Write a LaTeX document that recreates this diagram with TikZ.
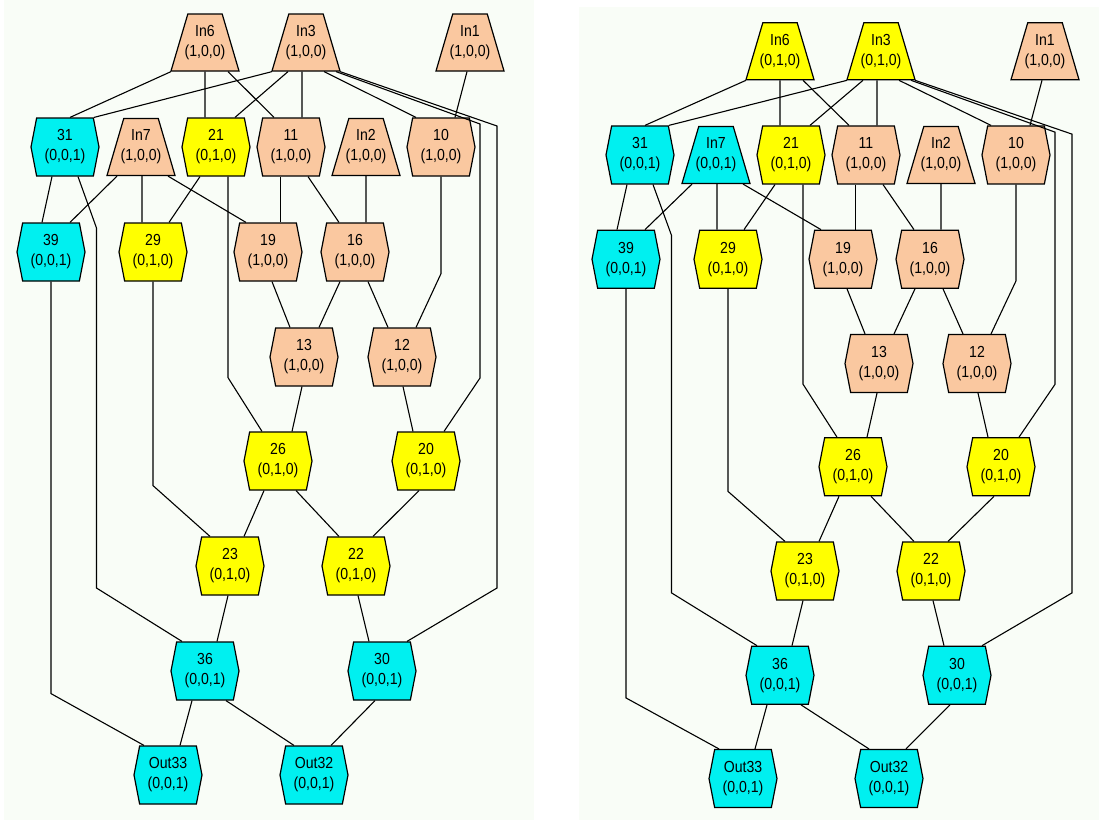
\documentclass[tikz,border=0pt]{standalone}
\usepackage{fontspec}
\setmainfont{Liberation Sans}[FakeStretch=0.88]
\usetikzlibrary{shapes.geometric,shapes.symbols}
\definecolor{peach}{RGB}{250,200,160}
\definecolor{lemon}{RGB}{255,255,0}
\definecolor{aqua}{RGB}{0,240,240}
\definecolor{paper}{RGB}{249,253,247}

\tikzset{
  gate/.style={signal, signal to=west and east, signal pointer angle=158, draw, line width=1.2pt,
    minimum width=68pt, minimum height=58pt, inner sep=0pt, align=center,
    font=\fontsize{16}{20}\selectfont},
  port/.style={trapezium, trapezium angle=64, trapezium stretches body, draw, line width=1.2pt,
    minimum width=68pt, minimum height=57pt, inner xsep=-4pt, inner ysep=0pt, align=center,
    font=\fontsize{16}{20}\selectfont},
  wire/.style={line width=1.1pt}
}

% one copy of the circuit: #1 fill of In6/In3, #2 their label, #3 fill of In7, #4 its label
\newcommand{\circuit}[4]{
  \node[port, fill=#1] (in6) at (205,42.5) {In6\\#2};
  \node[port, fill=#1] (in3) at (306,42.5) {In3\\#2};
  \node[port, fill=peach] (in1) at (470,42.5) {In1\\(1,0,0)};
  \node[gate, fill=aqua] (n31) at (65,147) {31\\(0,0,1)};
  \node[port, fill=#3] (in7) at (141,147) {In7\\#4};
  \node[gate, fill=lemon] (n21) at (216,147) {21\\(0,1,0)};
  \node[gate, fill=peach] (n11) at (291,147) {11\\(1,0,0)};
  \node[port, fill=peach] (in2) at (366,147) {In2\\(1,0,0)};
  \node[gate, fill=peach] (n10) at (441,147) {10\\(1,0,0)};
  \node[gate, fill=aqua] (n39) at (51,252) {39\\(0,0,1)};
  \node[gate, fill=lemon] (n29) at (153,252) {29\\(0,1,0)};
  \node[gate, fill=peach] (n19) at (268,252) {19\\(1,0,0)};
  \node[gate, fill=peach] (n16) at (355,252) {16\\(1,0,0)};
  \node[gate, fill=peach] (n13) at (304,357) {13\\(1,0,0)};
  \node[gate, fill=peach] (n12) at (402,357) {12\\(1,0,0)};
  \node[gate, fill=lemon] (n26) at (278,461) {26\\(0,1,0)};
  \node[gate, fill=lemon] (n20) at (426,461) {20\\(0,1,0)};
  \node[gate, fill=lemon] (n23) at (230,566) {23\\(0,1,0)};
  \node[gate, fill=lemon] (n22) at (356,566) {22\\(0,1,0)};
  \node[gate, fill=aqua] (n36) at (205,671) {36\\(0,0,1)};
  \node[gate, fill=aqua] (n30) at (382,671) {30\\(0,0,1)};
  \node[gate, fill=aqua] (out33) at (168,775) {Out33\\(0,0,1)};
  \node[gate, fill=aqua] (out32) at (314,775) {Out32\\(0,0,1)};

  \foreach \a/\p/\b/\q in {in6/-34/n31/5, in3/-34/n31/29, in6/0/n21/-11, in6/23/n11/-17,
      in3/-18/n21/19, in3/-4/n11/11, in3/18/n10/-25, in1/-3/n10/14, n31/-13/n39/-9,
      in7/-24/n39/19, in7/1/n29/-11, in7/27/n19/-22, n21/-16/n29/16, n11/-10.5/n19/12.5,
      n11/17/n16/-16, in2/0/n16/11, n19/4/n13/-14, n16/-15/n13/15, n16/13/n12/-14,
      n13/-2/n26/14, n12/1/n20/-13, n26/-14/n23/14, n26/18/n22/-17, n20/-7/n22/17,
      n23/-2/n36/12, n22/2/n30/-13, n36/-13/out33/12, n36/21/out32/-20, n30/-7/out32/17}
    \draw[wire] ([xshift=\p pt]\a.south) -- ([xshift=\q pt]\b.north);

  % long edges with bends
  \draw[wire] ([xshift=30pt]in3.south) -- (480,124) -- (480,378) -- ([xshift=18pt]n20.north);
  \draw[wire] ([xshift=34pt]in3.south) -- (497,126) -- (497,588) -- ([xshift=25pt]n30.north);
  \draw[wire] ([xshift=13pt]n31.south) -- (96.5,228) -- (96.5,588) -- ([xshift=-23pt]n36.north);
  \draw[wire] ([xshift=12pt]n21.south) -- ++(0,201) -- ([xshift=-16pt]n26.north);
  \draw[wire] (n10.south) -- ++(0,97) -- ([xshift=14pt]n12.north);
  \draw[wire] (n29.south) -- ++(0,204) -- ([xshift=-20pt]n23.north);
  \draw[wire] (n39.south) -- ++(0,412) -- ([xshift=-24pt]out33.north);
}

\begin{document}
\begin{tikzpicture}[x=1pt, y=-1pt]
  \useasboundingbox (0,0) rectangle (1099,820);
  \fill[paper] (4,0) rectangle (534,820);
  \fill[paper] (579,7) rectangle (1099,820);

  \begin{scope}[name prefix=l-]
    \circuit{peach}{(1,0,0)}{peach}{(1,0,0)}
  \end{scope}
  \begin{scope}[name prefix=r-, shift={(575,9)}, yscale=0.993]
    \circuit{lemon}{(0,1,0)}{aqua}{(0,0,1)}
  \end{scope}
\end{tikzpicture}
\end{document}
